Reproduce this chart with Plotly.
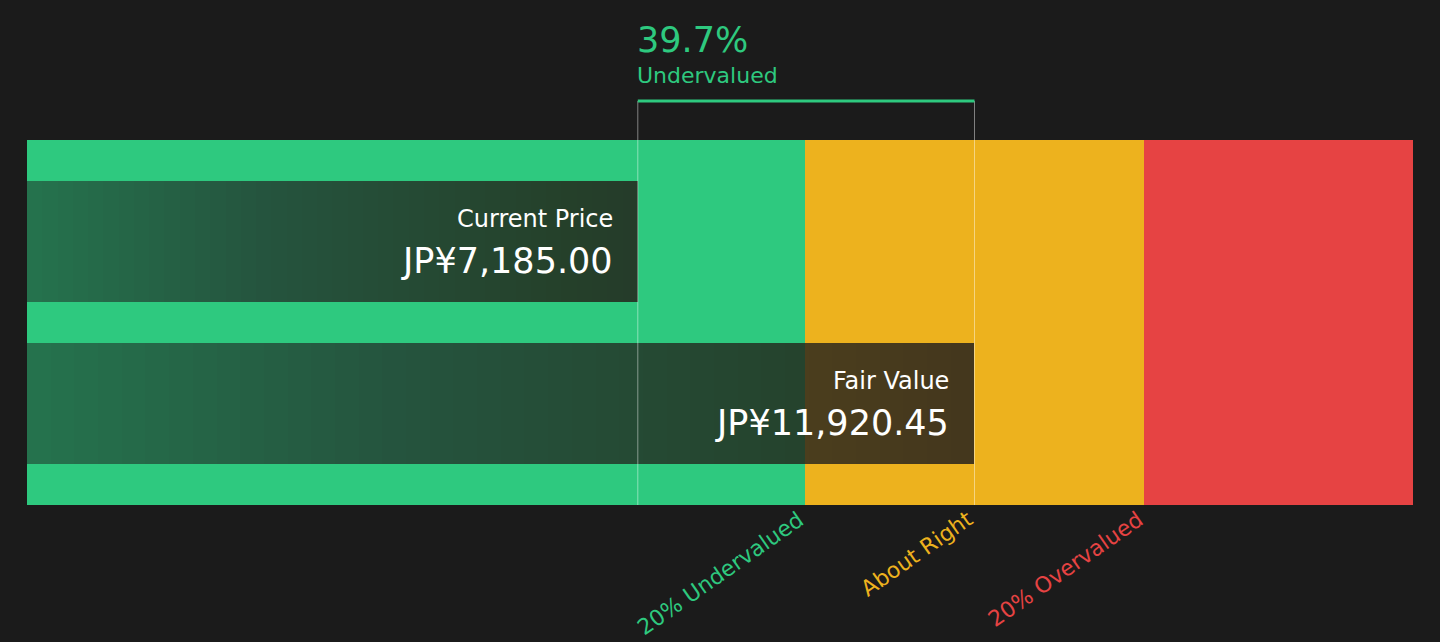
import plotly.graph_objects as go

# values
currency = "JP¥"
current_price = 7185.00
fair_value = 11920.45
discount_pct = 39.7
x_min = -1406
x_max = 18088

band_names = ["20% Undervalued", "About Right", "20% Overvalued"]
band_edges = [x_min, 0.8 * fair_value, 1.2 * fair_value, x_max]
band_colors = ["#2ec97f", "#edb21e", "#e64343"]
bar_labels = ["Current Price", "Fair Value"]
bar_values = [current_price, fair_value]
bar_rows = [1, 0]

bg = "#1b1b1b"
green = "#2ec97f"

fig = go.Figure()

# coloured bands behind everything
for name, lo, hi, col in zip(band_names, band_edges[:-1], band_edges[1:], band_colors):
    fig.add_trace(go.Bar(
        y=[0.5], x=[hi - lo], base=[lo], orientation="h", width=[2.3],
        marker=dict(color=col, line=dict(width=0)), name=name,
        hoverinfo="skip", showlegend=False))

# dark bars: one base layer plus thin layers that all end at the value,
# so they pile up towards the right and give a gradient
n_steps = 40
step_alpha = 0.025
for label, val, row in zip(bar_labels, bar_values, bar_rows):
    fig.add_trace(go.Bar(
        y=[row], x=[val - x_min], base=[x_min], orientation="h", width=[0.747],
        marker=dict(color="rgba(27,27,27,0.5)", line=dict(width=0)),
        hoverinfo="skip", showlegend=False))
    step = (val - x_min) / n_steps
    for i in range(1, n_steps):
        start = x_min + i * step
        fig.add_trace(go.Bar(
            y=[row], x=[val - start], base=[start], orientation="h", width=[0.747],
            marker=dict(color=f"rgba(27,27,27,{step_alpha})", line=dict(width=0)),
            hoverinfo="skip", showlegend=False))

    fig.add_annotation(x=val, y=row + 0.139, xref="x", yref="y", text=label,
                       showarrow=False, xanchor="right", yanchor="middle", xshift=-23,
                       font=dict(family="DejaVu Sans", size=24, color="white"))
    fig.add_annotation(x=val, y=row - 0.12, xref="x", yref="y",
                       text=f"{currency}{val:,.2f}",
                       showarrow=False, xanchor="right", yanchor="middle", xshift=-23,
                       font=dict(family="DejaVu Sans", size=35, color="white"))

# bracket above the chart
for val in bar_values:
    fig.add_shape(type="line", xref="x", yref="paper", x0=val, x1=val, y0=0, y1=1.107,
                  line=dict(color="rgba(255,255,255,0.45)", width=1))
fig.add_shape(type="line", xref="x", yref="paper", x0=current_price, x1=fair_value,
              y0=1.107, y1=1.107, line=dict(color=green, width=3))

fig.add_annotation(x=current_price, y=1.274, xref="x", yref="paper",
                   text=f"{discount_pct}%", showarrow=False,
                   xanchor="left", yanchor="middle", xshift=-3,
                   font=dict(family="DejaVu Sans", size=35, color=green))
fig.add_annotation(x=current_price, y=1.178, xref="x", yref="paper",
                   text="Undervalued", showarrow=False,
                   xanchor="left", yanchor="middle", xshift=-3,
                   font=dict(family="DejaVu Sans", size=22, color=green))

# rotated band labels under the chart
for name, edge, col in zip(band_names, [band_edges[1], fair_value, band_edges[2]], band_colors):
    fig.add_annotation(x=edge, y=-0.01, xref="x", yref="paper", text=name,
                       showarrow=False, textangle=-35, xanchor="right", yanchor="top",
                       xshift=6, yshift=5,
                       font=dict(family="DejaVu Sans", size=22, color=col))

fig.update_layout(
    width=1440, height=642,
    paper_bgcolor=bg, plot_bgcolor=bg,
    margin=dict(l=27, r=27, t=140, b=137),
    barmode="overlay", bargap=0,
    xaxis=dict(range=[x_min, x_max], visible=False, fixedrange=True),
    yaxis=dict(range=[-0.6265, 1.6265], visible=False, fixedrange=True),
    showlegend=False,
)

fig.write_html("out.html", config={"displayModeBar": False},
               post_script="document.body.style.margin='0';")
